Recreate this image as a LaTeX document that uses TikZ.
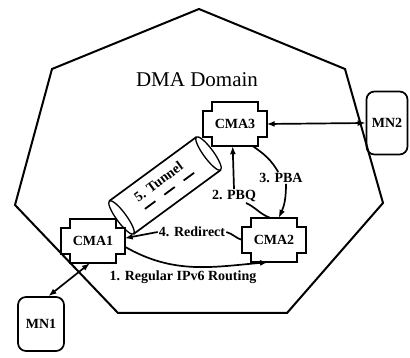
\documentclass[tikz,border=0pt]{standalone}
\usepackage{fontspec}
\setmainfont{Liberation Serif}
\usetikzlibrary{arrows.meta}

\begin{document}
\begin{tikzpicture}[x=1pt,y=1pt,
    cma/.style={minimum width=63pt,minimum height=44pt,inner sep=0pt,
        font=\fontsize{14}{16}\selectfont\bfseries},
    mn/.style={draw,line width=1.7pt,rounded corners=8pt,inner sep=0pt,
        font=\fontsize{14}{16}\selectfont\bfseries},
    lbl/.style={inner sep=1pt,font=\fontsize{14}{16}\selectfont\bfseries},
    conn/.style={line width=1.7pt},
    tip/.style={-{Latex[length=8pt,width=6pt]}},
    tips/.style={{Latex[length=8pt,width=6pt]}-{Latex[length=8pt,width=6pt]}}]
\useasboundingbox (0,0) rectangle (410,-358);

% domain border
\draw[line width=2pt] (199,-9) -- (345,-69) -- (383,-203) -- (287,-313)
    -- (118,-313) -- (15,-205) -- (52,-69) -- cycle;
\node[font=\fontsize{21}{24}\selectfont] (domain) at (197,-80) {DMA Domain};

% agents
\node[cma] (cma1) at (93,-241) {CMA1};
\node[cma] (cma2) at (274,-240) {CMA2};
\node[cma] (cma3) at (235,-124) {CMA3};
\foreach \n in {cma1,cma2,cma3} {
    \draw[line width=1.7pt] ([xshift=9pt]\n.north west) -- ([xshift=-9pt]\n.north east)
        -- ++(0,-9) -- ++(9,0) -- ([yshift=9pt]\n.south east) -- ++(-9,0) -- ++(0,-9)
        -- ([xshift=9pt]\n.south west) -- ++(0,9) -- ++(-9,0)
        -- ([yshift=-9pt]\n.north west) -- ++(9,0) -- cycle;
}

% mobile nodes
\node[mn,minimum width=46pt,minimum height=54pt] (mn1) at (41,-324) {MN1};
\node[mn,minimum width=41pt,minimum height=63pt] (mn2) at (387,-123) {MN2};

% tunnel
\begin{scope}[shift={(165,-185.5)},rotate=36.3]
    \draw[line width=1.7pt] (-54,20.5) -- (54,20.5) (-54,-20.5) -- (54,-20.5);
    \draw[line width=1.3pt] (-54,0) ellipse [x radius=5pt,y radius=20.5pt]
        (54,0) ellipse [x radius=5pt,y radius=20.5pt];
    \draw[line width=1.8pt,dash pattern=on 13pt off 11pt] (-30,-7) -- (31,-7);
    \node[lbl,rotate=36.3] (tunnel) at (-3,7) {5. Tunnel};
\end{scope}

% message labels
\node[lbl] (pbq) at (234,-196) {2. PBQ};
\node[lbl] (pba) at (281,-178) {3. PBA};
\node[lbl] (redirect) at (192,-232) {4. Redirect};
\node[lbl] (routing) at (183,-277) {1. Regular IPv6 Routing};

% links
\draw[conn,tips] (cma3.east) -- (mn2.west);
\draw[conn,tips] (cma1.-98) -- (mn1.75);
\draw[conn,tip] (cma1.-10) to[out=-30,in=185] (cma2.-105);
\draw[conn] (cma2.100) to[out=160,in=-25] (pbq.-30);
\draw[conn,tip] (pbq.north) -- (cma3.-96);
\draw[conn] (cma3.-51) to[out=-35,in=120] (pba.115);
\draw[conn,tip] ([xshift=5pt]pba.south) to[out=-90,in=65] (cma2.78);
\draw[conn] (cma2.west) to[out=165,in=-15] (redirect.east);
\draw[conn,tip] (redirect.west) -- (cma1.5);
\end{tikzpicture}
\end{document}
